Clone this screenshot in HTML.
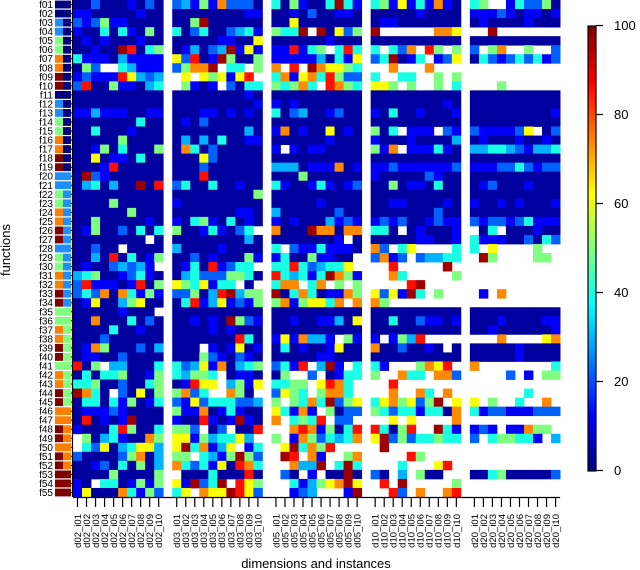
<!DOCTYPE html>
<html><head><meta charset="utf-8"><style>
html,body{margin:0;padding:0;background:#fff;}
svg{display:block;font-family:"Liberation Sans",sans-serif;}
</style></head><body>
<svg id="chart" width="640" height="570" viewBox="0 0 640 570" xmlns="http://www.w3.org/2000/svg">
<g id="cells"></g>
<g id="ann"></g>
<g id="axes"></g>
<g id="cbar"></g>
<text x="10" y="250" font-size="13" text-anchor="middle" transform="rotate(-90 10 250)">functions</text>
<text x="316" y="568" font-size="13" text-anchor="middle">dimensions and instances</text>
</svg>
<script>
const dims = ["d02","d03","d05","d10","d20"];
const instances = ["i01","i02","i03","i04","i05","i06","i07","i08","i09","i10"];
const cbTicks = [0,20,40,60,80,100];
const annA = [0,0,1,1,2,2,3,3,4,4, 0,1,1,2,2,3,3,4,4, 1,1,2,2,3,3,4,4, 1,2,2,3,3,4,4, 2,2,3,3,4,4, 2,3,3,4,4, 3,3,4,4, 3,4,4, 4,4,4];
const annB = [0,0,0,0,0,0,0,0,0,0, 0,0,0,0,0,0,0,0,0, 1,1,1,1,1,1,1,1, 1,1,1,1,1,1,1, 2,2,2,2,2,2, 2,2,2,2,2, 3,3,3,3, 3,3,3, 4,4,4];
// cell levels: '.' = missing, digit = level (0..9 -> value via levelValue)
const levelValue = [3,12,22,30,40,50,62,74,86,97];
const d02 = ["0020001020","1100000100","2125110000","1004041050","0101000100","0010098045","4111031111","052..43111","1211186323","2800511034",
"0000000000","0000000000","1131110011","0000000400","0040001000","0000050000","0015040005","0060110400","0001800000","0921000000",
"0340300908","0000000000","0000500000","0000005000","0050000010","0150020404","00000000.0","00200.0000","0030804015","010023231.",
"3450012410","2811101805","2427074151","0160035600","000001000.","0070004020","0000400100","0002000000","0175000203","0110020000",
"805.330004","0404450015","4450020045","9740.20605","0440415014","0111210000","0801019000","1000485004",".503410075",".426034663",
"2000025703","0012040503","0000500005","10.4401515","1600074152"];
const d03 = ["2315172220","0000000011","0059000000","4024002341","0000011006","0130239161","6280195005","25779.44.5",".6.656168.",".5101.2044",
"0000000010","0000000001","0001101010","0102000000","0000000030","0303040011","0740200000","0006200000","0002000000","0008000000",
"2400400100","0000000005","1000000000","0000000110","1045104010","500141024.","0000000030","3000010000","0020100051","014081244.",
"0342225540","6546144.0.","2250389355","0481361215","0000000000","0010109521","0000101000","0000000840","000.101601","0005210210",
"4236170345","43554.0110","01866.3516","5724..750.","2162444223","5117014100","1008101910","552.02.008","661534463.","6947136.14",
"55.4315952","7424160874",".000400080","619249.865","46.7669862"];
const d05 = ["4051004941","0010200110","0060000000","5449.90625","0000001000","118145.484","1111130416","7.8.976654","4716748522","54574.8754",
"0000000000","1010000000","4023001200","0000000000","1701006010","0000001000","1.10110000","0000000000","3330111701","0005000000",
"4100141012","0000000000","0000010000","3000000200","1010003121","7000977077","00000001.0","4.21141110","140051100.","448423446.",
"8434149751","477.47.5.5","9047401175","57156647.7","0000000000","0010011306","0000000000","1617331.51","0401001600","0000011000",
"2418.391.4","05..2.0144","4455.6874.","2654.5774.","5.54749256","64171.5022","7.4548.22.","..78715048","5.17524347",".694758...",
".98.71..57","..7339.494",".20.1.0090","..41356796","..123...19"];
const d10 = ["4516141710","0000010000","0110000000","9......776","0000000000","4.427.85.5","249014.126","..7...7...","4..44..5.5","665.5..5.4",
"0000000000","0000000010","1040010001","0000000000","504.111.21","1000100003","517.111410","0000000000","1121111112","1000002100",
"0050110400","0000000000","0011000010","0000000200","1212001211","440.010001","0000011001","72.46....4","2712.23344","..8.....9.",
"..74.....5","....89....","626194.5..","75........","0000000000","0040021101","0000000000","1.1538....","70020010.0","0000000000",
"41...5768.","5..744.772","..8.......","..7..74.7.","46756259.6","5424414407","..6.6....7","84058..941","6925244544",".9........",
"....85....","...4...68.","20.3.500..",".8.9.....5","..82.7..78"];
const d20 = ["45..142250","1112101101","0100001000","..9.......","0000000000","2.57..5..2","0421242412","..........","..........","...5......",
"0000000000","0000000000","0000000001","0000000000","2111126.02","0100010010","3344321334","0000000000","1112242122","0000000000",
"0120001000","0000000000","1001010001","0000000000","2122124111",".04.000100","4111002042","4.6....5..",".95....55.","..........",
"..........","..........",".1.7......","..........","0000000000","0001000011","0010000001","...7....67","0000010000","0000010000",
"7........4","....2.1.55","..........","......4...","6.5..4..7.","4122111222","..........","121.11755.","2.455441.3","..........",
"..........","..........","0045000002","..........",".........."];
const blocks = [d02,d03,d05,d10,d20];

const NS = "http://www.w3.org/2000/svg";
const X0 = 73, SLOT = 9.02, Y0 = 0, ROWH = 497/55;
const stops = [[0,0,127],[0,0,255],[0,127,255],[0,255,255],[127,255,127],[255,255,0],[255,127,0],[255,0,0],[127,0,0]];
function jet(v){
  let t = Math.max(0,Math.min(100,v))/100*8;
  let i = Math.min(7,Math.floor(t)), f = t-i;
  const a = stops[i], b = stops[i+1];
  return "rgb("+a.map((c,k)=>Math.round(c+(b[k]-c)*f)).join(",")+")";
}
function xScale(d,i){ return X0 + (d*11 + i)*SLOT; }
function yScale(r){ return Y0 + r*ROWH; }
function mk(tag, attrs, parent){ const e=document.createElementNS(NS,tag); for(const k in attrs) e.setAttribute(k,attrs[k]); parent.appendChild(e); return e; }

const cells = document.getElementById("cells");
blocks.forEach((blk,d)=>{
  blk.forEach((row,r)=>{
    for(let i=0;i<10;i++){
      const ch = row[i] || "0";
      if(ch===".") continue;
      const v = levelValue[+ch];
      const el = mk("rect",{x:xScale(d,i).toFixed(2),y:yScale(r).toFixed(2),width:(SLOT+0.4).toFixed(2),height:(ROWH+0.4).toFixed(2),fill:jet(v)},cells);
      
      
    }
  });
});

const annColors = ["#00007F","#1E8FFF","#80FF80","#FF8000","#800000"];
const ann = document.getElementById("ann");
const axes = document.getElementById("axes");
for(let r=0;r<55;r++){
  const a = mk("rect",{x:55,y:(yScale(r)+0.6).toFixed(2),width:8,height:(ROWH-1.2).toFixed(2),fill:annColors[annA[r]]},ann);
  
  
  const b = mk("rect",{x:63,y:(yScale(r)+0.6).toFixed(2),width:8,height:(ROWH-1.2).toFixed(2),fill:annColors[annB[r]]},ann);
  
  
  const cy = yScale(r)+ROWH/2;
  const tk = mk("line",{x1:71,x2:73,y1:cy,y2:cy,stroke:"#000","stroke-width":1},axes);
  
  
  const t = mk("text",{x:53,y:(cy+3.5).toFixed(2),"font-size":"10","text-anchor":"end"},axes);
  t.textContent = "f"+String(r+1).padStart(2,"0");
  
  
}
const yl = mk("line",{x1:72.5,x2:72.5,y1:0,y2:497,stroke:"#000","stroke-width":1.2},axes);


const xl = mk("line",{x1:73,x2:xScale(4,10),y1:497.5,y2:497.5,stroke:"#000","stroke-width":1.2},axes);


dims.forEach((dm,d)=>{
  instances.forEach((ins,i)=>{
    const cx = xScale(d,i)+SLOT/2;
    const tk = mk("line",{x1:cx,x2:cx,y1:497,y2:507,stroke:"#000","stroke-width":1.2},axes);
    
    
    const t = mk("text",{x:0,y:0,"font-size":"9.5","text-anchor":"end",transform:"translate("+(cx+3.4).toFixed(2)+",514) rotate(-90)"},axes);
    t.textContent = dm+"_"+ins;
    
    
  });
});

// colorbar
const cbar = document.getElementById("cbar");
const CB_TOP = 26, CB_BOT = 471;
function cbY(v){ return CB_BOT - (v/100)*(CB_BOT-CB_TOP); }
for(let k=0;k<100;k++){
  const s = mk("rect",{x:588,y:cbY(k+1).toFixed(2),width:8,height:((CB_BOT-CB_TOP)/100+0.5).toFixed(2),fill:jet(k+0.5)},cbar);
  
  
}
const bd = mk("rect",{x:588,y:CB_TOP,width:8,height:CB_BOT-CB_TOP,fill:"none",stroke:"#000","stroke-width":1.2},cbar);


cbTicks.forEach(v=>{
  const y = cbY(v)-0.5;
  const tk = mk("line",{x1:596,x2:603,y1:y,y2:y,stroke:"#000","stroke-width":1.2},cbar);
  
  
  const t = mk("text",{x:614,y:(y+4.5).toFixed(2),"font-size":"13"},cbar);
  t.textContent = String(v);
  
  
});
</script>
</body></html>
